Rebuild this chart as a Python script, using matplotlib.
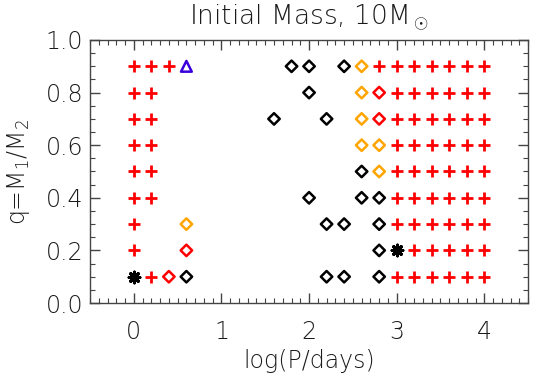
import matplotlib.pyplot as plt
from matplotlib.ticker import MultipleLocator

# rows of mass ratio q and, for each row, the log(P/days) of every marker type
q_rows = [0.9, 0.8, 0.7, 0.6, 0.5, 0.4, 0.3, 0.2, 0.1]

plus_logp = [
    [0.0, 0.2, 0.4, 2.8, 3.0, 3.2, 3.4, 3.6, 3.8, 4.0],
    [0.0, 0.2, 3.0, 3.2, 3.4, 3.6, 3.8, 4.0],
    [0.0, 0.2, 3.0, 3.2, 3.4, 3.6, 3.8, 4.0],
    [0.0, 0.2, 3.0, 3.2, 3.4, 3.6, 3.8, 4.0],
    [0.0, 0.2, 3.0, 3.2, 3.4, 3.6, 3.8, 4.0],
    [0.0, 0.2, 3.0, 3.2, 3.4, 3.6, 3.8, 4.0],
    [0.0, 3.0, 3.2, 3.4, 3.6, 3.8, 4.0],
    [0.0, 3.2, 3.4, 3.6, 3.8, 4.0],
    [0.2, 3.0, 3.2, 3.4, 3.6, 3.8, 4.0],
]
black_diamond_logp = [
    [1.8, 2.0, 2.4],
    [2.0],
    [1.6, 2.2],
    [],
    [2.6],
    [2.0, 2.6, 2.8],
    [2.2, 2.4, 2.8],
    [2.8],
    [0.6, 2.2, 2.4, 2.8],
]
orange_diamond_logp = [
    [2.6],
    [2.6],
    [2.6],
    [2.6, 2.8],
    [2.8],
    [],
    [0.6],
    [],
    [],
]
red_diamond_logp = [
    [],
    [2.8],
    [2.8],
    [],
    [],
    [],
    [],
    [0.6],
    [0.4],
]
triangle_logp = [[0.6], [], [], [], [], [], [], [], []]
asterisk_logp = [[], [], [], [], [], [], [], [3.0], [0.0]]

plt.rcParams['font.family'] = 'DejaVu Sans'
plt.rcParams['font.weight'] = 'light'
plt.rcParams['axes.labelweight'] = 'light'
plt.rcParams['axes.titleweight'] = 'light'
plt.rcParams['mathtext.fontset'] = 'custom'
plt.rcParams['mathtext.rm'] = 'DejaVu Sans:light'
plt.rcParams['mathtext.default'] = 'rm'

fig = plt.figure(figsize=(5.4, 3.86), dpi=100)
ax = fig.add_axes([0.1667, 0.215, 0.8113, 0.6814])


def scatter_rows(rows, **kw):
    xs, ys = [], []
    for q, vals in zip(q_rows, rows):
        xs += vals
        ys += [q] * len(vals)
    ax.scatter(xs, ys, **kw)


scatter_rows(plus_logp, marker='+', s=70, c='#ff0000', linewidths=2)
scatter_rows(black_diamond_logp, marker='D', s=34, facecolors='none',
             edgecolors='black', linewidths=1.8)
scatter_rows(orange_diamond_logp, marker='D', s=34, facecolors='none',
             edgecolors='#ffa500', linewidths=1.8)
scatter_rows(red_diamond_logp, marker='D', s=34, facecolors='none',
             edgecolors='#ff0000', linewidths=1.8)
scatter_rows(triangle_logp, marker='^', s=60, facecolors='none',
             edgecolors='#3a00dc', linewidths=1.8)
scatter_rows(asterisk_logp, marker=(8, 2, 0), s=60, c='black', linewidths=2.2)

ax.set_xlim(-0.5, 4.5)
ax.set_ylim(0.0, 1.0)
ax.xaxis.set_major_locator(MultipleLocator(1))
ax.xaxis.set_minor_locator(MultipleLocator(0.1))
ax.yaxis.set_major_locator(MultipleLocator(0.2))
ax.yaxis.set_minor_locator(MultipleLocator(0.05))
ax.yaxis.set_major_formatter(plt.FormatStrFormatter('%.1f'))

ax.tick_params(which='both', direction='in', top=True, right=True,
               color='#444444', labelsize=17, labelcolor='#1a1a1a')
ax.tick_params(which='major', length=7, width=1)
ax.tick_params(which='minor', length=3.5, width=0.8)
ax.tick_params(axis='x', which='major', pad=12)
ax.tick_params(axis='y', which='major', pad=5)
for sp in ax.spines.values():
    sp.set_color('#444444')
    sp.set_linewidth(1)

ax.set_xlabel('log(P/days)', fontsize=17, color='#1a1a1a', labelpad=4)
ax.set_ylabel(r'q=M$_1$/M$_2$', fontsize=17, color='#1a1a1a', labelpad=10)
ax.set_title(r'Initial Mass, 10M$_\odot$', fontsize=19, color='#1a1a1a', pad=11)

fig.savefig('out.png', dpi=100)
